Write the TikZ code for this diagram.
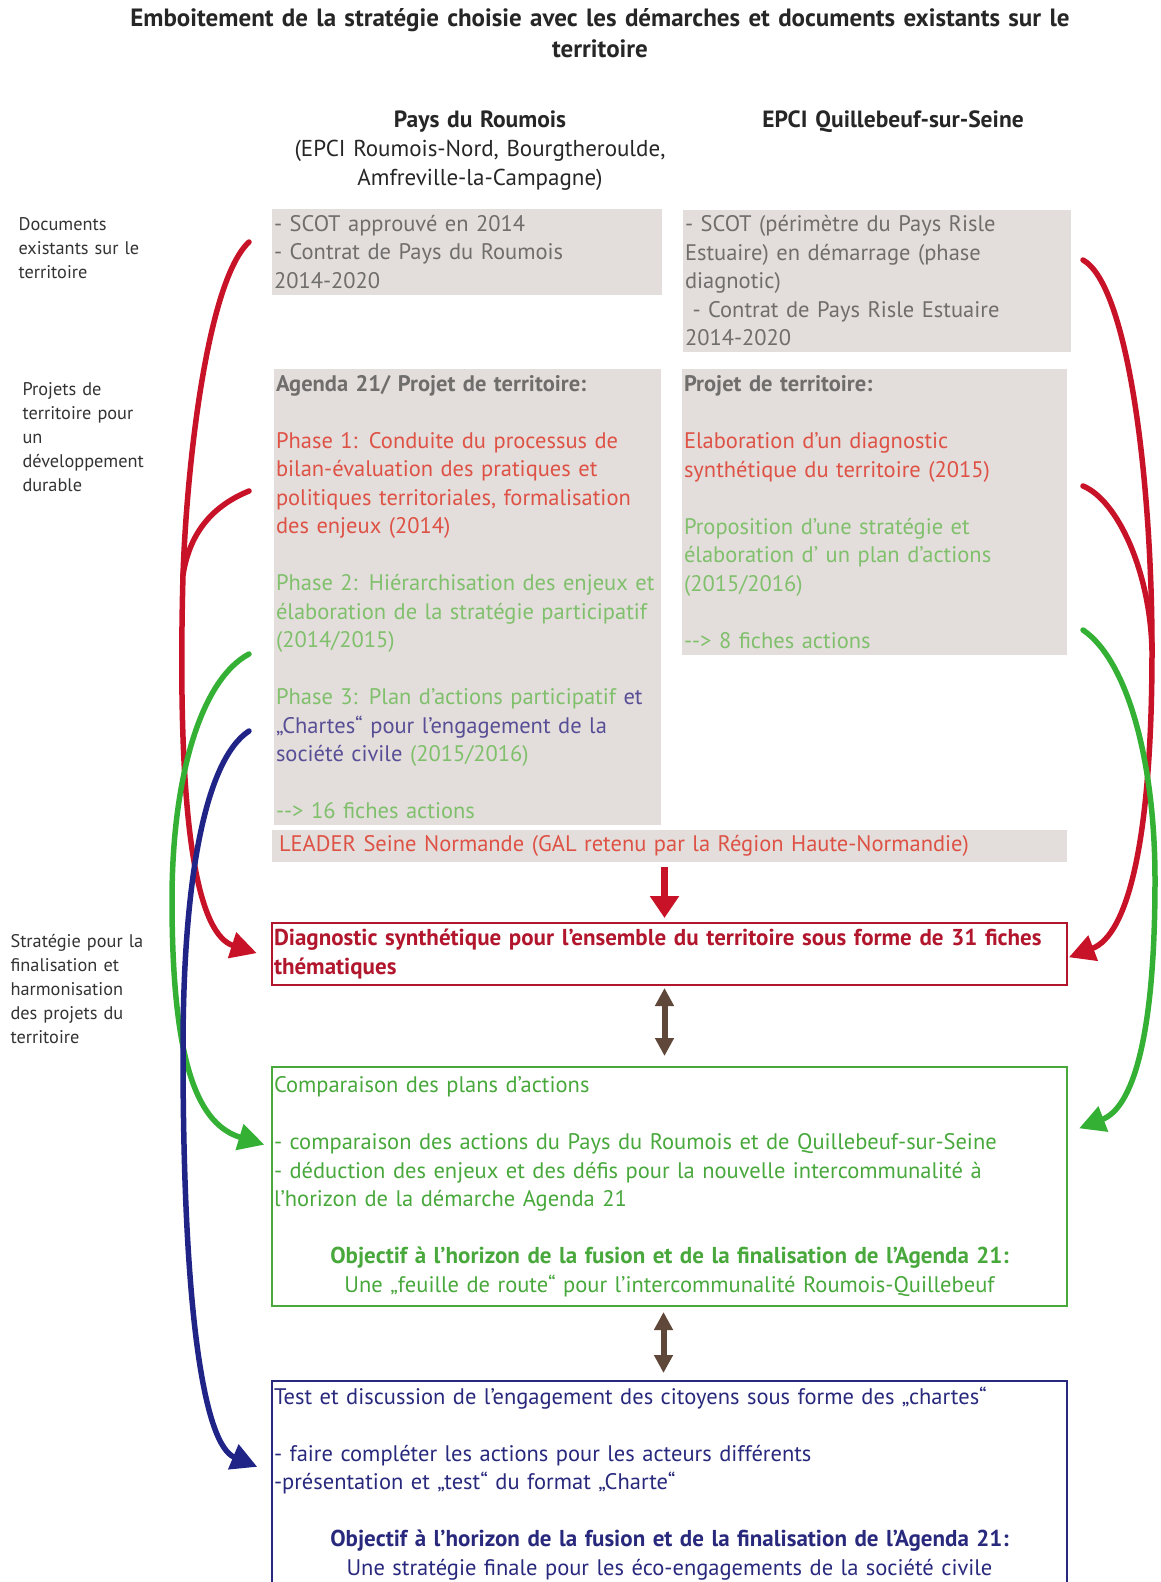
\documentclass[tikz,border=0pt]{standalone}
\usepackage{fontspec}
\setmainfont{PT Sans}
\usetikzlibrary{arrows.meta,calc}

\definecolor{boxgray}{RGB}{227,222,219}
\definecolor{txtgray}{RGB}{112,110,109}
\definecolor{phasered}{RGB}{222,82,70}
\definecolor{phasegreen}{RGB}{128,192,108}
\definecolor{chartblue}{RGB}{88,78,150}
\definecolor{arrred}{RGB}{200,18,40}
\definecolor{arrgreen}{RGB}{52,176,52}
\definecolor{arrblue}{RGB}{32,36,135}
\definecolor{arrbrown}{RGB}{95,72,58}
\definecolor{diagred}{RGB}{178,22,45}
\definecolor{cmpgreen}{RGB}{72,168,60}
\definecolor{testblue}{RGB}{40,40,125}

\newcommand\boxfont{\fontsize{22.5}{28.5}\selectfont}
\newcommand\boldline{\fontsize{23}{28.5}\selectfont\bfseries}

\tikzset{
  graybox/.style={fill=boxgray, anchor=north west, outer sep=0pt, inner xsep=2pt, inner ysep=0pt, align=left, font=\boxfont, text=txtgray},
  framebox/.style={draw, line width=2.5pt, anchor=north west, outer sep=0pt, inner xsep=2pt, inner ysep=0pt, align=left, font=\boxfont},
  sidelabel/.style={anchor=base west, text width=160pt, align=left, font=\fontsize{18.3}{24}\selectfont, text=black!80},
  headlabel/.style={anchor=base, text width=440pt, align=center, font=\fontsize{23}{29}\selectfont, text=black!85},
  bigline/.style={line width=5.5pt, line cap=round},
  bigarrow/.style={line width=5.5pt, line cap=round, -{Triangle[length=26pt,width=26pt]}},
}

\begin{document}
\begin{tikzpicture}[x=1pt,y=-1pt]
        \useasboundingbox (0,0) rectangle (1160,1582);

        % headings
        \node[anchor=base, text width=1100pt, align=center, font=\fontsize{25}{31}\selectfont\bfseries, text=black!85] (title) at (600,27) {Emboitement de la stratégie choisie avec les démarches et documents existants sur le\\territoire};
        \node[headlabel] (pays) at (480,127) {{\fontsize{23.5}{29}\selectfont\bfseries Pays du Roumois}\\(EPCI Roumois-Nord, Bourgtheroulde,\\Amfreville-la-Campagne)};
        \node[headlabel, font=\fontsize{23.5}{29}\selectfont\bfseries] (epci) at (893,127) {EPCI Quillebeuf-sur-Seine};

        \node[sidelabel] (docs) at (15,230) {Documents\\existants sur le\\territoire};
        \node[sidelabel] (projets) at (19,395) {Projets de\\territoire pour\\un\\développement\\durable};
        \node[sidelabel] (strat) at (7,947) {Stratégie pour la\\finalisation et\\harmonisation\\des projets du\\territoire};

        % gray boxes
        \node[graybox, minimum height=86pt, text width=386pt] (docL) at (272,209) {- SCOT approuvé en 2014\\- Contrat de Pays du Roumois\\2014-2020};
        \node[graybox, minimum height=142pt, text width=384pt] (docR) at (683,210) {- SCOT (périmètre du Pays Risle\\Estuaire) en démarrage (phase\\diagnotic)\\\ - Contrat de Pays Risle Estuaire\\2014-2020};
        \node[graybox, minimum height=456pt, text width=383pt] (agenda) at (274,369) {\textbf{Agenda 21/ Projet de territoire:}\\[28.5pt]
            \color{phasered}Phase 1: Conduite du processus de\\bilan-évaluation des pratiques et\\politiques territoriales, formalisation\\des enjeux (2014)\\[28.5pt]
            \color{phasegreen}Phase 2: Hiérarchisation des enjeux et\\élaboration de la stratégie participatif\\(2014/2015)\\[28.5pt]
            Phase 3: Plan d’actions participatif \color{chartblue}et\\„Chartes“ pour l’engagement de la\\société civile \color{phasegreen}(2015/2016)\\[28.5pt]
            -{}-> 16 fiches actions};
        \node[graybox, minimum height=286pt, text width=381pt] (projet) at (682,369) {\textbf{Projet de territoire:}\\[28.5pt]
            \color{phasered}Elaboration d’un diagnostic\\synthétique du territoire (2015)\\[28.5pt]
            \color{phasegreen}Proposition d’une stratégie et\\élaboration d’ un plan d’actions\\(2015/2016)\\[28.5pt]
            -{}-> 8 fiches actions};
        \node[graybox, minimum height=32pt, inner xsep=7pt, text width=781pt, text=phasered] (leader) at (272,830) {LEADER Seine Normande (GAL retenu par la Région Haute-Normandie)};

        % framed boxes
        \node[framebox, draw=diagred, text=diagred, minimum height=62pt, text width=791pt, font=\boldline] (diag) at (272,923) {Diagnostic synthétique pour l’ensemble du territoire sous forme de 31 fiches\\thématiques};
        \node[framebox, draw=cmpgreen, text=cmpgreen, minimum height=239pt, text width=791pt] (comp) at (272,1067) {Comparaison des plans d’actions\\[28.5pt]
            - comparaison des actions du Pays du Roumois et de Quillebeuf-sur-Seine\\- déduction des enjeux et des défis pour la nouvelle intercommunalité à\\l’horizon de la démarche Agenda 21\\[28.5pt]
            \makebox[\linewidth]{\boldline Objectif à l’horizon de la fusion et de la finalisation de l’Agenda 21:}\\
            \makebox[\linewidth]{Une „feuille de route“ pour l’intercommunalité Roumois-Quillebeuf}};
        \node[framebox, draw=testblue, text=testblue, minimum height=205pt, text width=791pt] (test) at (272,1381) {Test et discussion de l’engagement des citoyens sous forme des „chartes“\\[28.5pt]
            - faire compléter les actions pour les acteurs différents\\-présentation et „test“ du format „Charte“\\[28.5pt]
            \makebox[\linewidth]{\boldline Objectif à l’horizon de la fusion et de la finalisation de l’Agenda 21:}\\
            \makebox[\linewidth]{Une stratégie finale pour les éco-engagements de la société civile}};

        % central arrows
        \draw[line width=7pt, arrred, -{Triangle[length=22pt,width=28pt]}, shorten <=5pt, shorten >=5pt] ([xshift=-5pt]leader.south) -- ([xshift=-5pt]diag.north);
        \draw[line width=6pt, arrbrown, {Triangle[length=18pt,width=18pt]}-{Triangle[length=18pt,width=18pt]}, shorten <=3pt, shorten >=11pt] ([xshift=-5pt]diag.south) -- ([xshift=-5pt]comp.north);
        \draw[line width=6pt, arrbrown, {Triangle[length=18pt,width=18pt]}-{Triangle[length=18pt,width=18pt]}, shorten <=6pt, shorten >=8pt] ([xshift=-6pt]comp.south) -- ([xshift=-6pt]test.north);

        % left curved arrows
        \coordinate (rl1) at (249,242);
        \coordinate (rl2) at (249,491);
        \coordinate (redjoinL) at (183,575);
        \coordinate (gl) at (249,654);
        \coordinate (bl) at (249,731);
        \draw[bigarrow, arrred, shorten >=16pt] (rl1) .. controls (208,280) and (187,460) .. (redjoinL) .. controls (176,840) and (200,935) .. ([yshift=-4pt]diag.west);
        \draw[bigline, arrred] (rl2) .. controls (215,505) and (190,530) .. (redjoinL);
        \draw[bigarrow, arrgreen, shorten >=8pt] (gl) .. controls (200,680) and (172,780) .. (172,900) .. controls (172,1070) and (200,1125) .. ([yshift=-80pt]comp.north west);
        \draw[bigarrow, arrblue, shorten >=16pt] (bl) .. controls (205,760) and (183,880) .. (183,1050) .. controls (183,1320) and (205,1445) .. ([yshift=-92pt]test.north west);

        % right curved arrows
        \coordinate (rr1) at (1083,260);
        \coordinate (rr2) at (1083,486);
        \coordinate (redjoinR) at (1152,650);
        \coordinate (gr) at (1083,630);
        \draw[bigarrow, arrred, shorten >=2pt] (rr1) .. controls (1128,285) and (1152,480) .. (redjoinR) .. controls (1152,840) and (1128,935) .. ([yshift=-4pt]diag.east);
        \draw[bigline, arrred] (rr2) .. controls (1117,500) and (1150,570) .. (redjoinR);
        \draw[bigarrow, arrgreen, shorten >=13pt] (gr) .. controls (1127,660) and (1155,760) .. (1155,880) .. controls (1155,1040) and (1132,1108) .. ([yshift=-66pt]comp.north east);
\end{tikzpicture}
\end{document}
